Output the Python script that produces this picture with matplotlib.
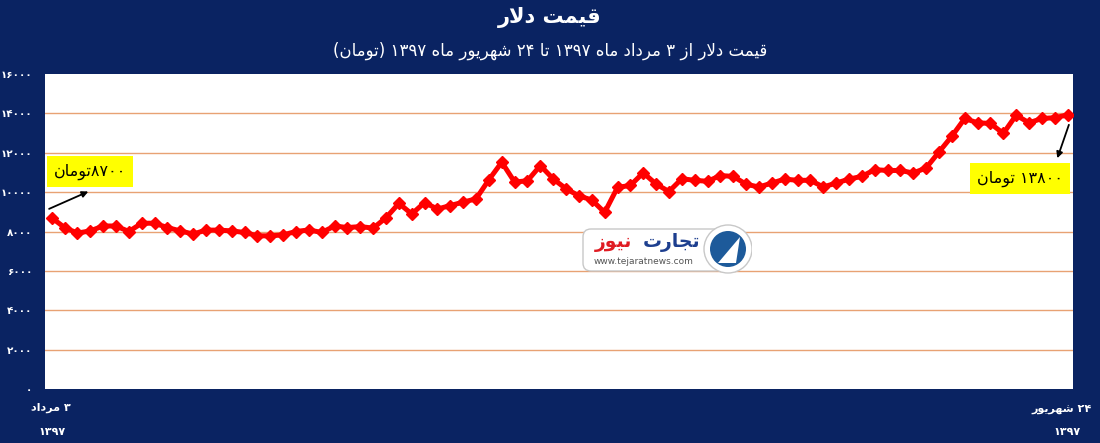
import numpy as np
import matplotlib
matplotlib.use("Agg")
import matplotlib.pyplot as plt
from matplotlib.patches import FancyBboxPatch, Circle, Polygon

# --- data (dollar price in toman, 3 Mordad -> 24 Shahrivar 1397) ---
prices = [8700, 8200, 7920, 8030, 8280, 8280, 8000, 8420, 8420, 8200,
          8030, 7870, 8070, 8070, 8030, 7950, 7780, 7780, 7830, 8000,
          8080, 7950, 8280, 8200, 8250, 8170, 8700, 9430, 8890, 9470,
          9140, 9320, 9490, 9660, 10630, 11520, 10510, 10580, 11350, 10670,
          10170, 9810, 9600, 8970, 10240, 10340, 10980, 10410, 10030, 10680,
          10600, 10550, 10840, 10800, 10400, 10260, 10460, 10660, 10600, 10600,
          10260, 10460, 10660, 10800, 11140, 11100, 11100, 10970, 11230, 12040,
          12840, 13740, 13520, 13490, 12980, 13910, 13520, 13740, 13780, 13920]
y_ticks = [0, 2000, 4000, 6000, 8000, 10000, 12000, 14000, 16000]

title = "قیمت دلار"
subtitle = "قیمت دلار از ۳ مرداد ماه ۱۳۹۷ تا ۲۴ شهریور ماه ۱۳۹۷ (تومان)"
start_label = ["۳ مرداد", "۱۳۹۷"]
end_label = ["۲۴ شهریور", "۱۳۹۷"]
start_note = "۸۷۰۰تومان"
end_note = "۱۳۸۰۰ تومان"

NAVY = "#0a2362"
GRID = "#e8a273"

# --- minimal Persian shaping + RTL ordering (matplotlib has no text shaping) ---
FORMS = {
    'ا': ('\uFE8D', '\uFE8E', None, None),
    'ت': ('\uFE95', '\uFE96', '\uFE97', '\uFE98'),
    'ج': ('\uFE9D', '\uFE9E', '\uFE9F', '\uFEA0'),
    'د': ('\uFEA9', '\uFEAA', None, None),
    'ر': ('\uFEAD', '\uFEAE', None, None),
    'ز': ('\uFEAF', '\uFEB0', None, None),
    'ش': ('\uFEB5', '\uFEB6', '\uFEB7', '\uFEB8'),
    'ق': ('\uFED5', '\uFED6', '\uFED7', '\uFED8'),
    'ل': ('\uFEDD', '\uFEDE', '\uFEDF', '\uFEE0'),
    'م': ('\uFEE1', '\uFEE2', '\uFEE3', '\uFEE4'),
    'ن': ('\uFEE5', '\uFEE6', '\uFEE7', '\uFEE8'),
    'ه': ('\uFEE9', '\uFEEA', '\uFEEB', '\uFEEC'),
    'و': ('\uFEED', '\uFEEE', None, None),
    'ی': ('\uFBFC', '\uFBFD', '\uFBFE', '\uFBFF'),
}


def shape(s):
    out = []
    i = 0
    while i < len(s):
        c = s[i]
        if c not in FORMS:
            out.append(c)
            i += 1
            continue
        prev = s[i - 1] if i > 0 else ''
        prev_joins = prev in FORMS and FORMS[prev][2] is not None
        if c == 'ل' and i + 1 < len(s) and s[i + 1] == 'ا':
            out.append('\uFEFC' if prev_joins else '\uFEFB')
            i += 2
            continue
        nxt = s[i + 1] if i + 1 < len(s) else ''
        next_joins = FORMS[c][2] is not None and nxt in FORMS
        iso, fin, ini, med = FORMS[c]
        if prev_joins and next_joins:
            out.append(med)
        elif prev_joins:
            out.append(fin)
        elif next_joins:
            out.append(ini)
        else:
            out.append(iso)
        i += 1
    return ''.join(out)


def rtl(s):
    s = shape(s)
    runs, cur, cur_digit = [], '', None
    for ch in s:
        d = ch.isdigit()
        if cur and d != cur_digit:
            runs.append((cur, cur_digit))
            cur = ''
        cur += ch
        cur_digit = d
    if cur:
        runs.append((cur, cur_digit))
    mirror = {'(': ')', ')': '('}
    parts = []
    for txt, dig in reversed(runs):
        parts.append(txt if dig else ''.join(mirror.get(ch, ch) for ch in reversed(txt)))
    return ''.join(parts)


plt.rcParams['font.family'] = ['DejaVu Sans']

fig = plt.figure(figsize=(11, 4.43), dpi=100)
fig.set_facecolor(NAVY)
ax = fig.add_axes([45 / 1100, 54 / 443, 1028 / 1100, 315 / 443])
ax.set_facecolor('white')

x = np.arange(len(prices))
for v in y_ticks[1:-1]:
    ax.axhline(v, color=GRID, lw=1.0, zorder=1)
ax.plot(x, prices, color='#ff0000', lw=3.6, marker='D', markersize=6.5,
        markeredgecolor='#ff0000', zorder=3)

ax.set_xlim(-0.52, len(prices) - 1 + 0.42)
ax.set_ylim(y_ticks[0], y_ticks[-1])
ax.set_xticks([])
ax.set_yticks(y_ticks)
fa_digits = str.maketrans('0123456789', '۰۱۲۳۴۵۶۷۸۹')
ax.set_yticklabels([str(v).translate(fa_digits) for v in y_ticks])
ax.tick_params(axis='y', length=0, pad=9, labelcolor='white', labelsize=7.5)
for lab in ax.get_yticklabels():
    lab.set_fontweight('bold')
for sp in ax.spines.values():
    sp.set_visible(False)

# --- annotations at both ends ---
ax.annotate('', xy=(2.85, 10030), xytext=(-0.2, 9150),
            arrowprops=dict(arrowstyle='-|>', color='black', lw=1.3,
                            mutation_scale=9, shrinkA=0, shrinkB=0), zorder=4)
ax.text(2.98, 11050, rtl(start_note), ha='center', va='center', fontsize=11.5,
        color='black', zorder=5,
        bbox=dict(boxstyle='square,pad=0.45', facecolor='#ffff00', edgecolor='none'))

ax.annotate('', xy=(78.2, 11720), xytext=(79.1, 13420),
            arrowprops=dict(arrowstyle='-|>', color='black', lw=1.3,
                            mutation_scale=9, shrinkA=0, shrinkB=0), zorder=4)
ax.text(75.3, 10680, rtl(end_note), ha='center', va='center', fontsize=11.5,
        color='black', zorder=5,
        bbox=dict(boxstyle='square,pad=0.45', facecolor='#ffff00', edgecolor='none'))

# --- titles ---
fig.text(0.5, 1 - 18 / 443, rtl(title), ha='center', va='center', color='white',
         fontsize=15, fontweight='bold')
fig.text(0.5, 1 - 51 / 443, rtl(subtitle), ha='center', va='center', color='white',
         fontsize=12)

# --- start / end date labels ---
fig.text(51 / 1100, 1 - 408 / 443, rtl(start_label[0]), ha='center', va='center',
         color='white', fontsize=8, fontweight='bold')
fig.text(52 / 1100, 1 - 432 / 443, rtl(start_label[1]), ha='center', va='center',
         color='white', fontsize=8, fontweight='bold')
fig.text(1062 / 1100, 1 - 409 / 443, rtl(end_label[0]), ha='center', va='center',
         color='white', fontsize=8, fontweight='bold')
fig.text(1067 / 1100, 1 - 432 / 443, rtl(end_label[1]), ha='center', va='center',
         color='white', fontsize=8, fontweight='bold')

# --- watermark logo ---
lax = fig.add_axes([580 / 1100, (443 - 277) / 443, 172 / 1100, 56 / 443])
lax.set_xlim(0, 172)
lax.set_ylim(0, 56)
lax.axis('off')
lax.add_patch(FancyBboxPatch((3, 6), 140, 42, boxstyle='round,pad=0,rounding_size=8',
                             facecolor='white', edgecolor='#c8c8c8', lw=1))
lax.add_patch(Circle((148, 28), 24, facecolor='white', edgecolor='#c8c8c8', lw=1))
lax.add_patch(Circle((148, 28), 18, facecolor='#1d5a9a', edgecolor='none'))
lax.add_patch(Polygon([[138, 14], [160, 40], [156, 14]], closed=True,
                      facecolor='white', edgecolor='none'))
lax.text(92, 34, rtl("تجارت"), ha='center', va='center', color='#1d3f8f',
         fontsize=13.5, fontweight='bold')
lax.text(34, 34, rtl("نیوز"), ha='center', va='center', color='#e01b22',
         fontsize=13.5, fontweight='bold')
lax.text(64, 15, "www.tejaratnews.com", ha='center', va='center', color='#555555',
         fontsize=6.5)

fig.savefig('out.png', dpi=100, facecolor=NAVY)
